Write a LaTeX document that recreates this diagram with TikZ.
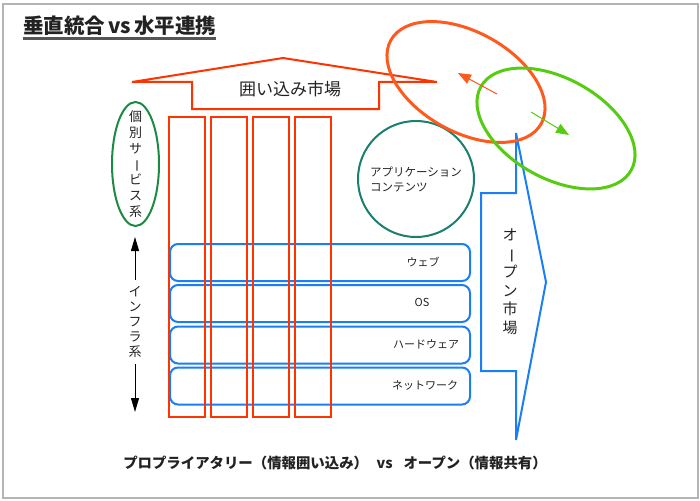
\documentclass[tikz,border=0pt]{standalone}
\usepackage{fontspec}
\usepackage{graphicx}
\setmainfont{Noto Sans CJK JP}
\usetikzlibrary{arrows.meta,shapes.geometric}
\definecolor{RedL}{HTML}{FF3300}
\definecolor{OrgE}{HTML}{FF5A1E}
\definecolor{GrnE}{HTML}{55CC11}
\definecolor{BluL}{HTML}{1A7EF5}
\definecolor{DkGrn}{HTML}{1A8A45}
\definecolor{TealC}{HTML}{1A7F6E}
\definecolor{FrameC}{HTML}{B4B4B4}
\definecolor{TxtC}{HTML}{222222}
\definecolor{UlineC}{HTML}{555555}
\newcommand{\vbar}{\rotatebox[origin=c]{-90}{ー}}
\tikzset{
  colbox/.style={draw=RedL, line width=2pt, minimum width=36pt, minimum height=300pt, inner sep=0pt, anchor=north west},
  layerbox/.style={draw=BluL, line width=2pt, rounded corners=8pt, minimum width=300pt, minimum height=37pt, inner sep=0pt, anchor=north west},
  layerlbl/.style={font=\fontsize{11}{13}\selectfont, text=TxtC, inner sep=0pt},
  vlbl/.style={align=center, text=TxtC, inner xsep=0pt},
  bigell/.style={ellipse, line width=3pt, minimum width=172pt, minimum height=100pt, inner sep=0pt, rotate=-29},
  thinarrow/.style={line width=1pt, -{Triangle[length=13pt,width=10pt]}},
  blkarrow/.style={line width=1pt, draw=black, -{Triangle[length=14pt,width=8pt]}},
}
\begin{document}
\begin{tikzpicture}[x=1pt,y=-1pt]
\useasboundingbox (0,0) rectangle (700,500);
\node[draw=FrameC, line width=2pt, minimum width=695.5pt, minimum height=493.5pt, inner sep=0pt, anchor=north west] (frame) at (1.5,3) {};

% title
\node[anchor=base west, inner sep=0pt, font=\bfseries\fontsize{20.5}{23}\selectfont, text=TxtC] (title) at (23,34) {垂直統合\hspace{3pt}vs\hspace{3pt}水平連携};
\draw[UlineC, line width=2.2pt] ([yshift=-4.5pt]title.base west) -- ([yshift=-4.5pt]title.base east);

% enclosed market arrow
\draw[RedL, line width=2pt, line join=miter] (132,82) -- (283,58) -- (437,82) -- (379,82) -- (379,109) -- (192,109) -- (192,82) -- cycle;
\node[font=\fontsize{17}{19}\selectfont, text=TxtC] (closedLbl) at (290,89) {囲い込み市場};

% layers
\node[layerbox] (web) at (169,243) {};
\node[layerbox] (os) at (169,284) {};
\node[layerbox] (hw) at (169,325.5) {};
\node[layerbox] (nw) at (169,366.5) {};
\node[layerlbl] (webL) at (423,262) {ウェブ};
\node[layerlbl] (osL) at (422,302.5) {OS};
\node[layerlbl] (hwL) at (426,344) {ハードウェア};
\node[layerlbl] (nwL) at (425,385) {ネットワーク};

% vertical columns
\node[colbox] (col1) at (168,116) {};
\node[colbox] (col2) at (210,116) {};
\node[colbox] (col3) at (252,116) {};
\node[colbox] (col4) at (294,116) {};

% individual services
\node[ellipse, draw=DkGrn, line width=2pt, minimum width=47pt, minimum height=124pt, inner sep=0pt] (kobetsu) at (135.5,164) {};
\node[vlbl, font=\fontsize{13}{15.8}\selectfont] (kobetsuL) at (kobetsu.center) {個\\別\\サ\\\vbar\\ビ\\ス\\系};

% infrastructure
\node[vlbl, inner ysep=6pt, font=\fontsize{13}{15}\selectfont] (infra) at (135,322) {イ\\ン\\フ\\ラ\\系};
\coordinate (upTip) at (135,237);
\coordinate (downTip) at (135,412);
\draw[blkarrow] (infra.north) -- (upTip);
\draw[blkarrow] (infra.south) -- (downTip);

% application circle
\node[circle, draw=TealC, line width=2pt, minimum size=116pt, inner sep=0pt, align=left, font=\fontsize{11.5}{15}\selectfont, text=TxtC] (app) at (416,179) {アプリケーション\\コンテンツ};

% open market arrow
\draw[BluL, line width=2pt, line join=miter] (516,133) -- (546,282) -- (516,440) -- (516,371) -- (481,371) -- (481,193) -- (516,193) -- cycle;
\node[vlbl, font=\fontsize{15}{18.6}\selectfont] (openL) at (510,281.5) {オ\\\vbar\\プ\\ン\\市\\場};

% ellipses
\node[bigell, draw=OrgE] (orangeE) at (466,82) {};
\node[bigell, draw=GrnE] (greenE) at (556,128.5) {};
\coordinate (rs) at (497,94);
\coordinate (re) at (458,73);
\coordinate (gs) at (531,112);
\coordinate (ge) at (569,135);
\draw[thinarrow, draw=OrgE, fill=OrgE] (rs) -- (re);
\draw[thinarrow, draw=GrnE, fill=GrnE] (gs) -- (ge);

% caption
\node[font=\bfseries\fontsize{14.4}{16}\selectfont, text=TxtC] (caption) at (335,463) {プロプライアタリー（情報囲い込み）\hspace{0.6em}vs\hspace{0.75em}オープン（情報共有）};
\end{tikzpicture}
\end{document}
